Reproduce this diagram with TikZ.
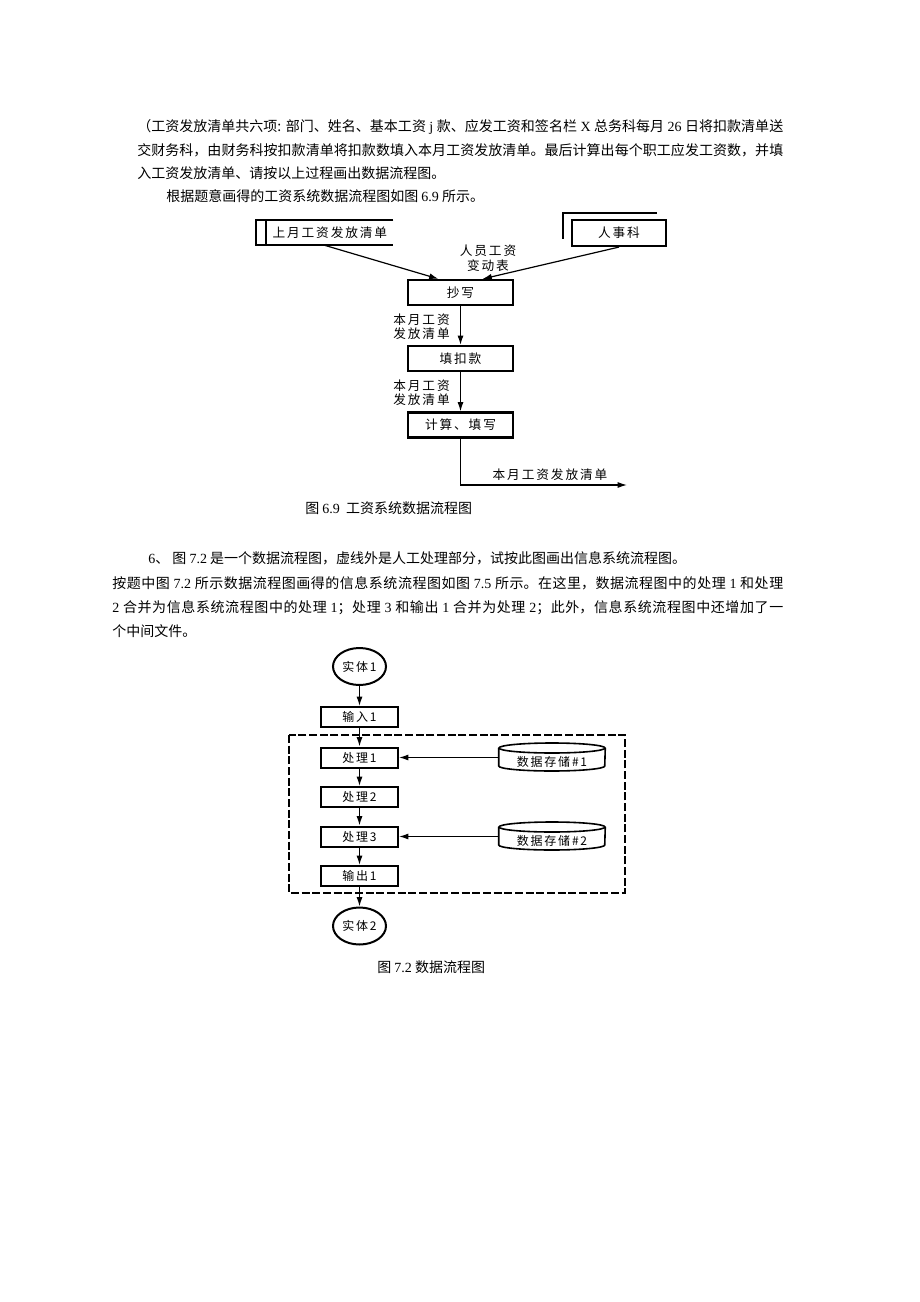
\documentclass[tikz,border=0pt]{standalone}
\usepackage{fontspec}
\setmainfont{Liberation Serif}
\newfontfamily\cjk{Noto Sans CJK SC}
\newfontfamily\cjkwide[LetterSpace=15]{Noto Sans CJK SC}
\XeTeXlinebreaklocale "zh"
\XeTeXlinebreakskip=0pt plus 1pt
\usetikzlibrary{math}
\usetikzlibrary{arrows.meta}
\usetikzlibrary{shapes.geometric}
\newcommand{\lat}[1]{{\rmfamily #1}}
% one justified line of body text
\newcommand{\fullline}[2]{\parbox{#1}{\spaceskip=2.6pt plus 0.5pt\parfillskip=0pt\relax #2}}

\begin{document}
\begin{tikzpicture}[x=0.75pt,y=-0.75pt,
	bodytext/.style={anchor=west,inner sep=0pt,font=\cjk\fontsize{10.5pt}{12pt}\selectfont},
	flowtext/.style={inner sep=0pt,font=\cjkwide\fontsize{9.5pt}{10.5pt}\selectfont},
	procbox/.style={draw,line width=1.6pt,minimum width=78.75pt,minimum height=18.75pt,flowtext},
	smallbox/.style={draw,line width=1.5pt,inner sep=0pt,minimum width=57.75pt,minimum height=15pt,font=\cjkwide\fontsize{9pt}{10pt}\selectfont},
	entity/.style={draw,ellipse,line width=1.5pt,inner sep=0pt,minimum width=39.75pt,minimum height=27.75pt,font=\cjkwide\fontsize{9pt}{10pt}\selectfont},
	storenode/.style={inner sep=0pt,minimum width=79.5pt,font=\cjkwide\fontsize{9pt}{10pt}\selectfont},
	flowarrow/.style={-{Latex[length=7pt,width=4.5pt]},line width=0.9pt},
	]

	\tikzmath{\xa = 460.5; % centre of the first chart
			  \xb = 359.5; % centre of the second chart
	        }

	\fill[white] (0,0) rectangle (920,1302);
	\useasboundingbox (0,0) rectangle (920,1302);

	% text above the first chart
	\node[bodytext] (t1) at (137,127) {\fullline{484.5pt}{（工资发放清单共六项: 部门、姓名、基本工资 \lat{j} 款、应发工资和签名栏 \lat{X} 总务科每月 \lat{26} 日将扣款清单送}};
	\node[bodytext] (t2) at (137,150) {\fullline{484.5pt}{交财务科，由财务科按扣款清单将扣款数填入本月工资发放清单。最后计算出每个职工应发工资数，并填}};
	\node[bodytext] (t3) at (137,173) {入工资发放清单、请按以上过程画出数据流程图。};
	\node[bodytext] (t4) at (166,196) {根据题意画得的工资系统数据流程图如图 \lat{6.9} 所示。};

	% chart 6.9
	\node[flowtext,minimum width=102.75pt,minimum height=18.75pt] (prev) at (324.5,232.5) {\hspace*{8pt}上月工资发放清单};
	\draw[line width=1.6pt] (prev.north east) -- (prev.north west) -- (prev.south west) -- (prev.south east);
	\draw[line width=1.6pt] ([xshift=7.5pt]prev.north west) -- ([xshift=7.5pt]prev.south west);
	\node[procbox,minimum width=70.5pt,minimum height=19.5pt] (staff) at (619,233) {人事科};
	\draw[line width=1.2pt] ([shift={(-8,20)}]staff.north west) -- ([shift={(-8,-6)}]staff.north west) -- ([shift={(86,-6)}]staff.north west);
	\node[flowtext,align=center] (chg) at (488,258) {人员工资\\[1pt]变动表};

	\node[procbox] (copy) at (\xa,292.5) {抄写};
	\node[procbox] (fill) at (\xa,358.5) {填扣款};
	\node[procbox] (calc) at (\xa,425) {计算、填写};

	\draw[flowarrow] (prev.south) -- ([xshift=-16.5pt]copy.north);
	\draw[flowarrow] (staff.south) -- ([xshift=16.5pt]copy.north);
	\draw[flowarrow] (copy) -- (fill);
	\draw[flowarrow] (fill) -- (calc);
	\node[flowtext,align=center,anchor=east] (lst1) at (450,327) {本月工资\\发放清单};
	\node[flowtext,align=center,anchor=east] (lst2) at (450,393) {本月工资\\发放清单};

	\coordinate (res) at (627,485);
	\draw[flowarrow] (calc.south) |- (res);
	\node[flowtext] (lst3) at (550,475) {本月工资发放清单};

	\node[bodytext] (cap1) at (305,508) {图 \lat{6.9}\ \ 工资系统数据流程图};

	% text above the second chart
	\node[bodytext] (u1) at (148,558) {\lat{6}、\ 图 \lat{7.2} 是一个数据流程图，虚线外是人工处理部分，试按此图画出信息系统流程图。};
	\node[bodytext] (u2) at (112,583) {\fullline{503.25pt}{按题中图 \lat{7.2} 所示数据流程图画得的信息系统流程图如图 \lat{7.5} 所示。在这里，数据流程图中的处理 \lat{1} 和处理}};
	\node[bodytext] (u3) at (112,608) {\fullline{503.25pt}{\lat{2} 合并为信息系统流程图中的处理 \lat{1}；处理 \lat{3} 和输出 \lat{1} 合并为处理 \lat{2}；此外，信息系统流程图中还增加了一}};
	\node[bodytext] (u4) at (112,631) {个中间文件。};

	% chart 7.2
	\node[entity] (src) at (\xb,666.5) {实体1};
	\node[smallbox] (in1) at (\xb,717) {输入1};
	\node[smallbox] (p1) at (\xb,757.5) {处理1};
	\node[smallbox] (p2) at (\xb,797) {处理2};
	\node[smallbox] (p3) at (\xb,836.5) {处理3};
	\node[smallbox] (out1) at (\xb,876) {输出1};
	\node[entity] (dst) at (\xb,926) {实体2};

	\draw[line width=1.2pt,dash pattern=on 6pt off 2pt] (289,735) rectangle (625,893);

	\node[storenode] (s1) at (552,762) {数据存储\#1};
	\node[storenode] (s2) at (552,841) {数据存储\#2};
	\foreach \s in {s1,s2}{
		\draw[line width=1.2pt] ([yshift=10.5pt]\s.west) -- ([yshift=-3pt]\s.west) arc[start angle=180,end angle=360,x radius=39.75pt,y radius=3.75pt] -- ([yshift=10.5pt]\s.east);
		\draw[line width=1.2pt] ([yshift=10.5pt]\s.center) ellipse [x radius=39.75pt,y radius=3.75pt];
	}

	\foreach \a/\b in {src/in1,in1/p1,p1/p2,p2/p3,p3/out1,out1/dst}
		\draw[flowarrow] (\a) -- (\b);
	\draw[flowarrow] (s1.west |- p1) -- (p1.east);
	\draw[flowarrow] (s2.west |- p3) -- (p3.east);

	\node[bodytext] (cap2) at (377,967) {图 \lat{7.2} 数据流程图};
\end{tikzpicture}
\end{document}
